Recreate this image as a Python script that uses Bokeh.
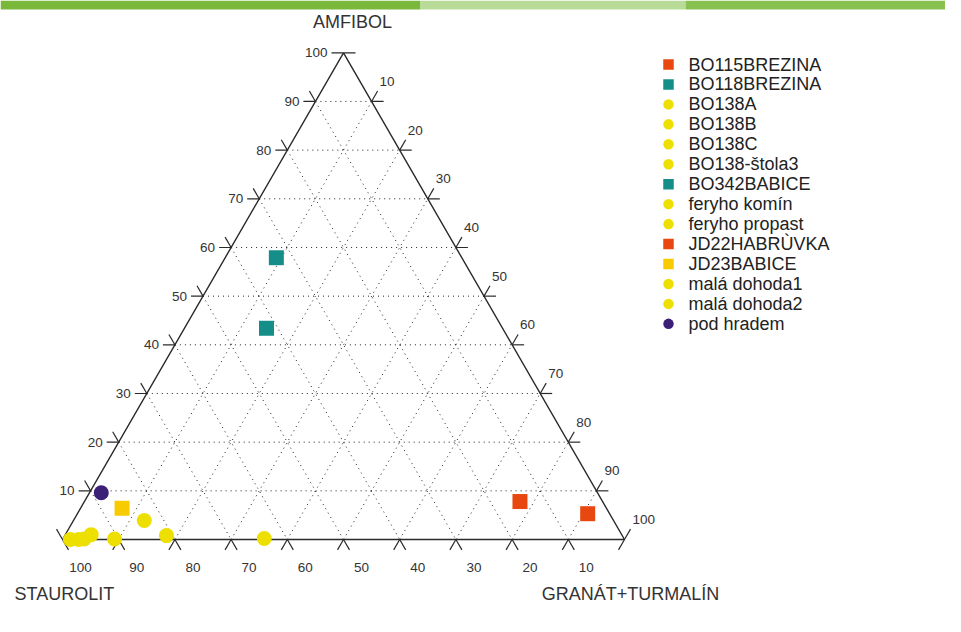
import math
from bokeh.plotting import figure
from bokeh.core.properties import value
from bokeh.embed import file_html
from bokeh.resources import INLINE

# ---------------- data ----------------
samples = ["BO115BREZINA", "BO118BREZINA", "BO138A", "BO138B", "BO138C",
           "BO138-štola3", "BO342BABICE", "feryho komín", "feryho propast",
           "JD22HABRÙVKA", "JD23BABICE", "malá dohoda1", "malá dohoda2",
           "pod hradem"]
amfibol = [7.8, 57.9, 0.0, 0.0, 0.1, 1.0, 43.4, 0.1, 3.9, 5.3, 6.4, 0.8, 0.2, 9.6]
granat = [77.5, 9.1, 1.4, 2.9, 3.8, 4.6, 14.6, 9.2, 12.6, 90.8, 7.4, 18.1, 35.8, 2.1]
staurolit = [14.7, 33.0, 98.6, 97.1, 96.1, 94.4, 42.0, 90.7, 83.5, 3.9, 86.2, 81.1, 64.0, 88.3]
markers = ["square", "square", "circle", "circle", "circle", "circle", "square",
           "circle", "circle", "square", "square", "circle", "circle", "circle"]
RED, TEAL, YEL, GOLD, PURP = "#E8480F", "#158E8A", "#EDE000", "#F8CB00", "#3C2078"
colors = [RED, TEAL, YEL, YEL, YEL, YEL, TEAL, YEL, YEL, RED, GOLD, YEL, YEL, PURP]

tick_values = [10, 20, 30, 40, 50, 60, 70, 80, 90, 100]
tick_labels = ["10", "20", "30", "40", "50", "60", "70", "80", "90", "100"]
axis_titles = ["AMFIBOL", "STAUROLIT", "GRANÁT+TURMALÍN"]

# ---------------- geometry ----------------
H = math.sqrt(3) / 2
PX = 5.62                  # pixels per unit
W, HGT = 945, 616
OX, OY = 62, 539           # page position of the STAUROLIT corner
x0 = -OX / PX
y1 = OY / PX
p = figure(width=W, height=HGT, output_backend="svg", toolbar_location=None,
           x_range=(x0, x0 + W / PX), y_range=(y1 - HGT / PX, y1),
           min_border=0)
p.axis.visible = False
p.grid.visible = False
p.outline_line_color = None
p.background_fill_color = "white"

def page_to_data(X, Y):
    return (X - OX) / PX, (OY - Y) / PX

# decorative green banner along the top edge
bl, bt = page_to_data(0, 0)
bm, bb = page_to_data(420, 9)
br, _ = page_to_data(W, 9)
b2, _ = page_to_data(685, 9)
p.quad(left=[bl, bm, b2], right=[bm, b2, br], top=[bt] * 3, bottom=[bb] * 3,
       fill_color=["#7AB83C", "#B9DB98", "#88C150"], line_color=None)

LINE = "#2a2a2a"
L = 12 / PX   # tick extension length (units)

def to_xy(a, g, s):
    t = a + g + s
    a, g = a / t * 100, g / t * 100
    return g + a / 2, a * H

# grid lines and tick extensions
gx, gy, ex, ey = [], [], [], []
for v in tick_values:
    # amfibol (horizontal)
    ax0, ay = v / 2, v * H
    ax1 = 100 - v / 2
    if v < 100:
        gx.append([ax0, ax1]); gy.append([ay, ay])
    ex.append([ax0 - L, ax0]); ey.append([ay, ay])
    ex.append([ax1, ax1 + L]); ey.append([ay, ay])
    # staurolit (parallel to right edge)
    bx = 100 - v
    lx, ly = (100 - v) / 2, (100 - v) * H
    if v < 100:
        gx.append([lx, bx]); gy.append([ly, 0])
    ex.append([bx, bx + 0.5 * L]); ey.append([0, -H * L])
    ex.append([lx - 0.5 * L, lx]); ey.append([ly + H * L, ly])
    # granat (parallel to left edge)
    bx = v
    rx, ry = 50 + v / 2, (100 - v) * H
    if v < 100:
        gx.append([bx, rx]); gy.append([0, ry])
    ex.append([bx - 0.5 * L, bx]); ey.append([-H * L, 0])
    ex.append([rx, rx + 0.5 * L]); ey.append([ry, ry + H * L])

p.multi_line(gx, gy, line_color="#222222", line_width=1, line_dash="1 4")
p.multi_line(ex, ey, line_color=LINE, line_width=1.2)
p.line([0, 100, 50, 0], [0, 0, 50 * math.sqrt(3), 0], line_color=LINE, line_width=1.4)

TF = value("Liberation Sans")
TC = "#333333"
TS = "13.5px"
# tick labels
p.text(x=[v / 2 for v in tick_values], y=[v * H for v in tick_values], text=tick_labels,
       text_align="right", text_baseline="middle", x_offset=-16,
       text_font=TF, text_font_size=TS, text_color=TC)
p.text(x=[50 + v / 2 for v in tick_values], y=[(100 - v) * H for v in tick_values],
       text=tick_labels, text_align="left", text_baseline="middle",
       x_offset=8, y_offset=-20, text_font=TF, text_font_size=TS, text_color=TC)
p.text(x=[100 - v for v in tick_values], y=[0] * len(tick_values), text=tick_labels,
       text_align="center", text_baseline="middle", x_offset=18, y_offset=28,
       text_font=TF, text_font_size=TS, text_color=TC)

# axis titles
AS = "18px"
p.text(x=[50], y=[100 * H], text=[axis_titles[0]], text_align="center",
       text_baseline="middle", x_offset=9, y_offset=-31,
       text_font=TF, text_font_size=AS, text_color=TC)
p.text(x=[0], y=[0], text=[axis_titles[1]], text_align="left",
       text_baseline="middle", x_offset=-48, y_offset=54,
       text_font=TF, text_font_size=AS, text_color=TC)
p.text(x=[100], y=[0], text=[axis_titles[2]], text_align="center",
       text_baseline="middle", x_offset=6, y_offset=54,
       text_font=TF, text_font_size=AS, text_color=TC)

# points
for a, g, s, m, c in zip(amfibol, granat, staurolit, markers, colors):
    x, y = to_xy(a, g, s)
    p.scatter(x=[x], y=[y], marker=m, size=15, fill_color=c, line_color=None)

# legend (drawn in page layout positions)
LEG_MX, LEG_TX, LEG_Y0, LEG_DY = 668, 688, 64, 19.95
lmx, lmy, ltx = [], [], []
for i in range(len(samples)):
    mx, my = page_to_data(LEG_MX, LEG_Y0 + i * LEG_DY)
    tx, _ = page_to_data(LEG_TX, 0)
    lmx.append(mx); lmy.append(my); ltx.append(tx)
for mx, my, m, c in zip(lmx, lmy, markers, colors):
    p.scatter(x=[mx], y=[my], marker=m, size=10.5, fill_color=c, line_color=None)
p.text(x=ltx, y=lmy, text=samples, text_align="left", text_baseline="middle",
       text_font=TF, text_font_size="18px", text_color="#222222")

open("out.html", "w").write(file_html(p, INLINE))
